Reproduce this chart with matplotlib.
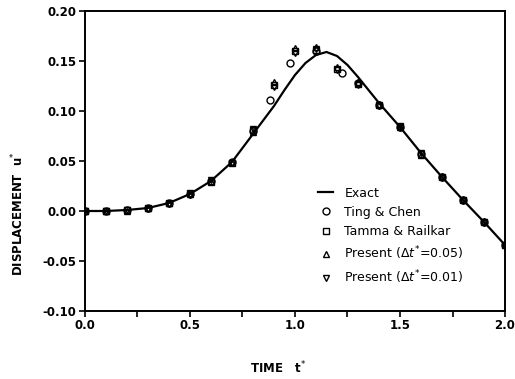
import matplotlib
matplotlib.use('Agg')
import matplotlib.pyplot as plt
from matplotlib.ticker import MultipleLocator, FormatStrFormatter

# exact solution
t_exact = [0.0, 0.1, 0.2, 0.3, 0.4, 0.5, 0.6, 0.7, 0.8, 0.85, 0.9, 0.95, 1.0,
           1.05, 1.1, 1.15, 1.2, 1.25, 1.3, 1.35, 1.4, 1.5, 1.6, 1.7, 1.8, 1.9, 2.0]
u_exact = [0.000, 0.000, 0.001, 0.003, 0.008, 0.017, 0.030, 0.049, 0.077, 0.091,
           0.105, 0.121, 0.136, 0.148, 0.156, 0.159, 0.155, 0.146, 0.134, 0.121,
           0.108, 0.084, 0.058, 0.034, 0.011, -0.011, -0.034]

# Ting & Chen
t_ting = [0.0, 0.1, 0.2, 0.3, 0.4, 0.5, 0.6, 0.7, 0.8, 0.88, 0.975, 1.1, 1.225,
          1.3, 1.4, 1.5, 1.6, 1.7, 1.8, 1.9, 2.0]
u_ting = [0.000, 0.000, 0.001, 0.003, 0.008, 0.017, 0.030, 0.049, 0.080, 0.111,
          0.148, 0.160, 0.138, 0.128, 0.106, 0.084, 0.057, 0.034, 0.011, -0.011, -0.034]

# Tamma & Railkar
t_tamma = [0.0, 0.1, 0.2, 0.3, 0.4, 0.5, 0.6, 0.7, 0.8, 0.9, 1.0, 1.1, 1.2,
           1.3, 1.4, 1.5, 1.6, 1.7, 1.8, 1.9, 2.0]
u_tamma = [0.000, 0.000, 0.001, 0.003, 0.008, 0.018, 0.029, 0.048, 0.081, 0.126,
           0.160, 0.161, 0.142, 0.127, 0.106, 0.085, 0.057, 0.034, 0.011, -0.011, -0.034]

# Present, dt*=0.05
t_p05 = [0.0, 0.1, 0.2, 0.3, 0.4, 0.5, 0.6, 0.7, 0.8, 0.9, 1.0, 1.1, 1.2,
         1.3, 1.4, 1.5, 1.6, 1.7, 1.8, 1.9, 2.0]
u_p05 = [0.000, 0.000, 0.000, 0.003, 0.008, 0.017, 0.030, 0.049, 0.079, 0.129,
         0.163, 0.164, 0.144, 0.129, 0.107, 0.084, 0.056, 0.035, 0.012, -0.010, -0.033]

# Present, dt*=0.01
t_p01 = [0.0, 0.1, 0.2, 0.3, 0.4, 0.5, 0.6, 0.7, 0.8, 0.9, 1.0, 1.1, 1.2,
         1.3, 1.4, 1.5, 1.6, 1.7, 1.8, 1.9, 2.0]
u_p01 = [0.000, 0.000, 0.001, 0.002, 0.007, 0.016, 0.031, 0.048, 0.082, 0.124,
         0.158, 0.162, 0.141, 0.126, 0.105, 0.083, 0.058, 0.033, 0.010, -0.012, -0.035]

plt.rcParams['font.family'] = 'DejaVu Sans'

fig = plt.figure(figsize=(5.15, 3.79), dpi=100)
ax = fig.add_axes([0.165, 0.1794, 0.8156, 0.7916])

mk = dict(linestyle='none', markerfacecolor='none', markeredgecolor='black',
          markersize=5, markeredgewidth=1.0)
ax.plot(t_exact, u_exact, color='black', linewidth=1.6, label='Exact')
ax.plot(t_ting, u_ting, marker='o', label='Ting & Chen', **mk)
ax.plot(t_tamma, u_tamma, marker='s', label='Tamma & Railkar', **mk)
ax.plot(t_p05, u_p05, marker='^', label=r'Present ($\Delta t^{*}$=0.05)', **mk)
ax.plot(t_p01, u_p01, marker='v', label=r'Present ($\Delta t^{*}$=0.01)', **mk)

ax.set_xlim(0.0, 2.0)
ax.set_ylim(-0.10, 0.20)
ax.xaxis.set_major_locator(MultipleLocator(0.5))
ax.xaxis.set_minor_locator(MultipleLocator(0.25))
ax.yaxis.set_major_locator(MultipleLocator(0.05))
ax.xaxis.set_major_formatter(FormatStrFormatter('%.1f'))
ax.yaxis.set_major_formatter(FormatStrFormatter('%.2f'))
ax.tick_params(which='both', direction='out', length=4, width=1.2,
               labelsize=8.5, pad=2)
for lab in ax.get_xticklabels() + ax.get_yticklabels():
    lab.set_fontweight('bold')
for s in ax.spines.values():
    s.set_linewidth(1.4)

fig.text(0.035, 0.435, r'DISPLACEMENT  u$^{*}$', rotation=90, ha='center',
         va='center', fontsize=8.5, fontweight='bold')
fig.text(0.54, 0.03, r'TIME   t$^{*}$', ha='center', va='center',
         fontsize=8.5, fontweight='bold')

leg = ax.legend(loc='upper left', bbox_to_anchor=(0.555, 0.415), frameon=False,
                fontsize=9, handlelength=1.2, handletextpad=0.9,
                labelspacing=0.5, borderaxespad=0, borderpad=0)

plt.savefig('out.png', dpi=100)
